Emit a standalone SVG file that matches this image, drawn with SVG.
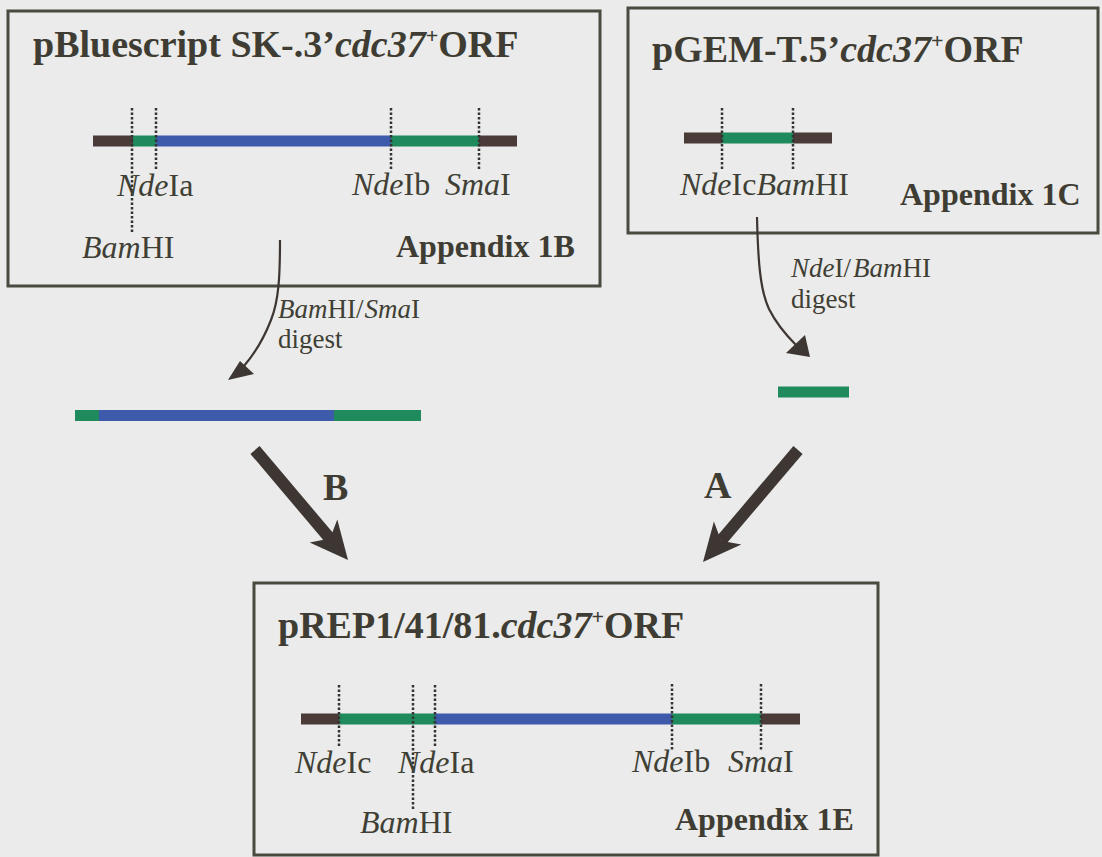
<svg xmlns="http://www.w3.org/2000/svg" width="1102" height="857" viewBox="0 0 1102 857">
<style>
.bg{fill:#eaebea}
.box{fill:none;stroke:#4b4a40;stroke-width:3}
.title{font-family:"Liberation Serif","Times New Roman",serif;font-weight:bold;font-size:38px;fill:#3f3d33}
.lab{font-family:"Liberation Serif","Times New Roman",serif;font-size:32px;fill:#403f35}
.dig{font-family:"Liberation Serif","Times New Roman",serif;font-size:27px;fill:#403f35}
.app{font-family:"Liberation Serif","Times New Roman",serif;font-weight:bold;font-size:32px;fill:#3f3d33}
.big{font-family:"Liberation Serif","Times New Roman",serif;font-weight:bold;font-size:38px;fill:#3f3d33}
.i{font-style:italic}
.sup{font-size:22px;baseline-shift:14px}
.dk{stroke:#4a3b39;stroke-width:11}
.gr{stroke:#1f8a5c;stroke-width:11}
.bl{stroke:#3e5bab;stroke-width:11}
.cut{stroke:#333;stroke-width:2.5;stroke-dasharray:2.5 2}
.thin{fill:none;stroke:#3d3632;stroke-width:2.2}
.head{fill:#3d3632}
.thick{stroke:#3d3632;stroke-width:12}
</style>
<rect class="bg" x="0" y="0" width="1102" height="857"/>

<g id="box-1B">
<rect class="box" x="8" y="11" width="592" height="275"/>
<text class="title" x="33" y="57">pBluescript SK-.3’<tspan class="i">cdc37</tspan><tspan class="sup">+</tspan>ORF</text>
<line class="dk" x1="93" y1="141" x2="133" y2="141"/>
<line class="gr" x1="133" y1="141" x2="156" y2="141"/>
<line class="bl" x1="156" y1="141" x2="391" y2="141"/>
<line class="gr" x1="391" y1="141" x2="479" y2="141"/>
<line class="dk" x1="479" y1="141" x2="517" y2="141"/>
<line class="cut" x1="132" y1="108" x2="132" y2="234"/>
<line class="cut" x1="156" y1="108" x2="156" y2="170"/>
<line class="cut" x1="391" y1="108" x2="391" y2="170"/>
<line class="cut" x1="479" y1="108" x2="479" y2="170"/>
<text class="lab" x="117" y="196"><tspan class="i">Nde</tspan>Ia</text>
<text class="lab" x="352" y="195"><tspan class="i">Nde</tspan>Ib</text>
<text class="lab" x="445" y="195"><tspan class="i">Sma</tspan>I</text>
<text class="lab" x="82" y="258"><tspan class="i">Bam</tspan>HI</text>
<text class="app" x="396" y="257">Appendix 1B</text>
</g>

<g id="box-1C">
<rect class="box" x="628" y="8" width="470" height="225"/>
<text class="title" x="652" y="62">pGEM-T.5’<tspan class="i">cdc37</tspan><tspan class="sup">+</tspan>ORF</text>
<line class="dk" x1="684" y1="138" x2="722" y2="138"/>
<line class="gr" x1="722" y1="138" x2="793" y2="138"/>
<line class="dk" x1="793" y1="138" x2="832" y2="138"/>
<line class="cut" x1="722" y1="108" x2="722" y2="170"/>
<line class="cut" x1="793" y1="108" x2="793" y2="170"/>
<text class="lab" x="680" y="195"><tspan class="i">Nde</tspan>Ic<tspan class="i">Bam</tspan>HI</text>
<text class="app" x="900" y="205">Appendix 1C</text>
</g>

<g id="fragment-B">
<line class="gr" x1="75" y1="415.5" x2="99" y2="415.5"/>
<line class="bl" x1="99" y1="415.5" x2="334" y2="415.5"/>
<line class="gr" x1="334" y1="415.5" x2="421" y2="415.5"/>
</g>

<g id="fragment-A">
<line class="gr" x1="778" y1="392" x2="849" y2="392"/>
</g>

<g id="box-1E">
<rect class="box" x="254" y="583" width="624" height="272"/>
<text class="title" x="278" y="638">pREP1/41/81.<tspan class="i">cdc37</tspan><tspan class="sup">+</tspan>ORF</text>
<line class="dk" x1="301" y1="719" x2="339" y2="719"/>
<line class="gr" x1="339" y1="719" x2="435" y2="719"/>
<line class="bl" x1="435" y1="719" x2="672" y2="719"/>
<line class="gr" x1="672" y1="719" x2="761" y2="719"/>
<line class="dk" x1="761" y1="719" x2="800" y2="719"/>
<line class="cut" x1="339" y1="685" x2="339" y2="747"/>
<line class="cut" x1="413" y1="685" x2="413" y2="810"/>
<line class="cut" x1="435" y1="685" x2="435" y2="747"/>
<line class="cut" x1="672" y1="684" x2="672" y2="750"/>
<line class="cut" x1="761" y1="684" x2="761" y2="750"/>
<text class="lab" x="295" y="773"><tspan class="i">Nde</tspan>Ic</text>
<text class="lab" x="398" y="773"><tspan class="i">Nde</tspan>Ia</text>
<text class="lab" x="632" y="772"><tspan class="i">Nde</tspan>Ib</text>
<text class="lab" x="728" y="772"><tspan class="i">Sma</tspan>I</text>
<text class="lab" x="360" y="833"><tspan class="i">Bam</tspan>HI</text>
<text class="app" x="675" y="830">Appendix 1E</text>
</g>

<g id="connectors">
<path class="thin" d="M280,240 C280,275 279,300 271,320 C264,338 256,352 244,366"/>
<polygon class="head" points="228,380 240,361 254,374"/>
<text class="dig" x="278" y="318"><tspan class="i">Bam</tspan>HI/<tspan class="i" dx="1">Sma</tspan>I</text>
<text class="dig" x="278" y="348">digest</text>

<path class="thin" d="M757,217 C758,260 760,290 769,309 C777,325 786,335 796,345"/>
<polygon class="head" points="810,357 786,353 805,335"/>
<text class="dig" x="791" y="277"><tspan class="i">Nde</tspan>I/<tspan class="i" dx="2">Bam</tspan>HI</text>
<text class="dig" x="791" y="308">digest</text>

<line class="thick" x1="255" y1="450" x2="330" y2="538.6"/>
<polygon class="head" points="348,560 309.7,542.6 330,538.6 337.3,519.4"/>
<text class="big" x="323" y="500">B</text>

<line class="thick" x1="798" y1="450" x2="721.1" y2="540.7"/>
<polygon class="head" points="703,562 713.9,521.4 721.1,540.7 741.3,544.6"/>
<text class="big" x="704" y="498">A</text>
</g>
</svg>
